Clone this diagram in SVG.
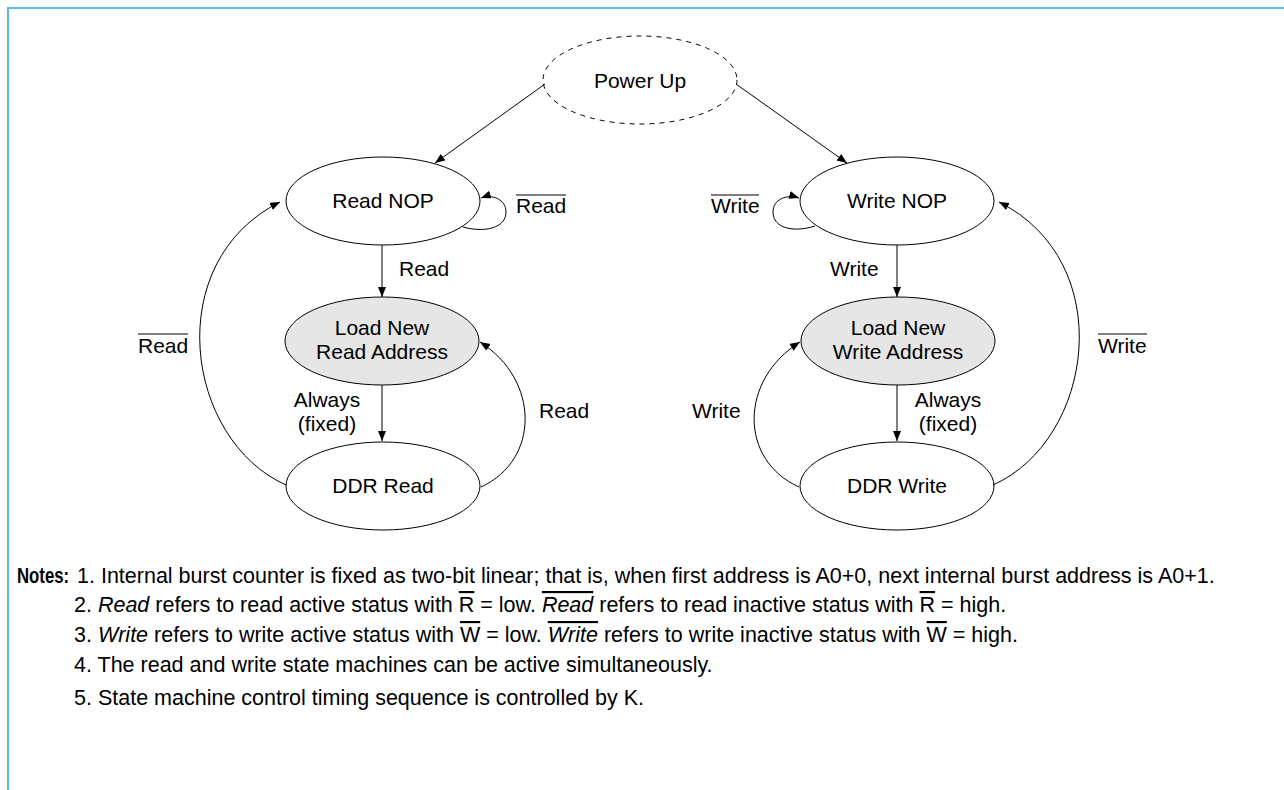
<svg xmlns="http://www.w3.org/2000/svg" width="1284" height="790" viewBox="0 0 1284 790">
<style>
.st{fill:#fff;stroke:#000;stroke-width:1}
.ld{fill:#e6e6e6;stroke:#000;stroke-width:1}
.pu{fill:#fff;stroke:#000;stroke-width:1;stroke-dasharray:5 5}
.nl{font-family:"Liberation Sans",Arial,sans-serif;font-size:21px;fill:#000;text-anchor:middle}
.el{font-family:"Liberation Sans",Arial,sans-serif;font-size:21px;fill:#000}
.nt{font-family:"Liberation Sans",Arial,sans-serif;font-size:21.5px;fill:#000}
.cn{fill:none;stroke:#000;stroke-width:1}
.ov{stroke:#000;stroke-width:1.2}
.i{font-style:italic}
.o{text-decoration:overline}
</style>
<defs>
<marker id="ah" markerUnits="userSpaceOnUse" markerWidth="11" markerHeight="9" refX="10" refY="4" orient="auto">
<path d="M0,0 L10,4 L0,8 z" fill="#000"/>
</marker>
</defs>
<rect x="0" y="0" width="1284" height="790" fill="#fff"/>
<line x1="7" y1="8" x2="1284" y2="8" stroke="#5DB6EE" stroke-width="2"/>
<line x1="8" y1="7" x2="8" y2="790" stroke="#5DB6EE" stroke-width="2"/>

<g id="power-up"><ellipse class="pu" cx="640" cy="80" rx="97" ry="44"/><text class="nl" x="640" y="88">Power Up</text></g>
<g id="read-nop"><ellipse class="st" cx="383" cy="201" rx="97" ry="44"/><text class="nl" x="383" y="208">Read NOP</text></g>
<g id="load-read"><ellipse class="ld" cx="382" cy="341" rx="97" ry="44"/><text class="nl" x="382" y="335">Load New</text><text class="nl" x="382" y="359">Read Address</text></g>
<g id="ddr-read"><ellipse class="st" cx="383" cy="486" rx="97" ry="44"/><text class="nl" x="383" y="493">DDR Read</text></g>
<g id="write-nop"><ellipse class="st" cx="897" cy="201" rx="97" ry="44"/><text class="nl" x="897" y="208">Write NOP</text></g>
<g id="load-write"><ellipse class="ld" cx="898" cy="341" rx="97" ry="44"/><text class="nl" x="898" y="335">Load New</text><text class="nl" x="898" y="359">Write Address</text></g>
<g id="ddr-write"><ellipse class="st" cx="897" cy="486" rx="97" ry="44"/><text class="nl" x="897" y="493">DDR Write</text></g>

<g id="connectors">
<line class="cn" x1="545" y1="84" x2="435" y2="163" marker-end="url(#ah)"/>
<line class="cn" x1="736" y1="84" x2="847" y2="163" marker-end="url(#ah)"/>
<line class="cn" x1="382" y1="245" x2="382" y2="297" marker-end="url(#ah)"/>
<line class="cn" x1="382" y1="385" x2="382" y2="441" marker-end="url(#ah)"/>
<line class="cn" x1="897" y1="245" x2="897" y2="297" marker-end="url(#ah)"/>
<line class="cn" x1="897" y1="385" x2="897" y2="441" marker-end="url(#ah)"/>
<path class="cn" d="M463,227 C485,233 506,228 506,212 C506,199 492,194 481,198" marker-end="url(#ah)"/>
<path class="cn" d="M815,226 C793,233 773,228 773,212 C773,199 787,194 799,198" marker-end="url(#ah)"/>
<path class="cn" d="M481,487 C540,460 540,380 480,342" marker-end="url(#ah)"/>
<path class="cn" d="M799,487 C739,460 739,380 800,342" marker-end="url(#ah)"/>
<path class="cn" d="M286,485 C185,440 160,262 280,202" marker-end="url(#ah)"/>
<path class="cn" d="M993,485 C1094,440 1119,262 999,202" marker-end="url(#ah)"/>
</g>

<g id="edge-labels">
<text class="el" x="516" y="213">Read</text><line class="ov" x1="516" y1="195" x2="566" y2="195"/>
<text class="el" x="711" y="213">Write</text><line class="ov" x1="711" y1="195" x2="759" y2="195"/>
<text class="el" x="399" y="276">Read</text>
<text class="el" x="830" y="276">Write</text>
<text class="nl" x="327" y="407">Always</text><text class="nl" x="327" y="431">(fixed)</text>
<text class="nl" x="948" y="407">Always</text><text class="nl" x="948" y="431">(fixed)</text>
<text class="el" x="539" y="418">Read</text>
<text class="el" x="692" y="418">Write</text>
<text class="el" x="138" y="353">Read</text><line class="ov" x1="138" y1="334" x2="188" y2="334"/>
<text class="el" x="1098" y="353">Write</text><line class="ov" x1="1098" y1="334" x2="1147" y2="334"/>
</g>

<g id="notes">
<text class="nt" transform="translate(17,583) scale(0.78,1)" font-weight="bold">Notes:</text>
<text class="nt" x="77" y="583">1. Internal burst counter is fixed as two-bit linear; that is, when first address is A0+0, next internal burst address is A0+1.</text>
<text class="nt" x="74" y="612">2. <tspan class="i">Read</tspan> refers to read active status with <tspan class="o">R</tspan> = low. <tspan class="i o">Read</tspan> refers to read inactive status with <tspan class="o">R</tspan> = high.</text>
<text class="nt" x="74" y="642">3. <tspan class="i">Write</tspan> refers to write active status with <tspan class="o">W</tspan> = low. <tspan class="i o">Write</tspan> refers to write inactive status with <tspan class="o">W</tspan> = high.</text>
<text class="nt" x="74" y="672">4. The read and write state machines can be active simultaneously.</text>
<text class="nt" x="74" y="705">5. State machine control timing sequence is controlled by K.</text>
</g>
</svg>
